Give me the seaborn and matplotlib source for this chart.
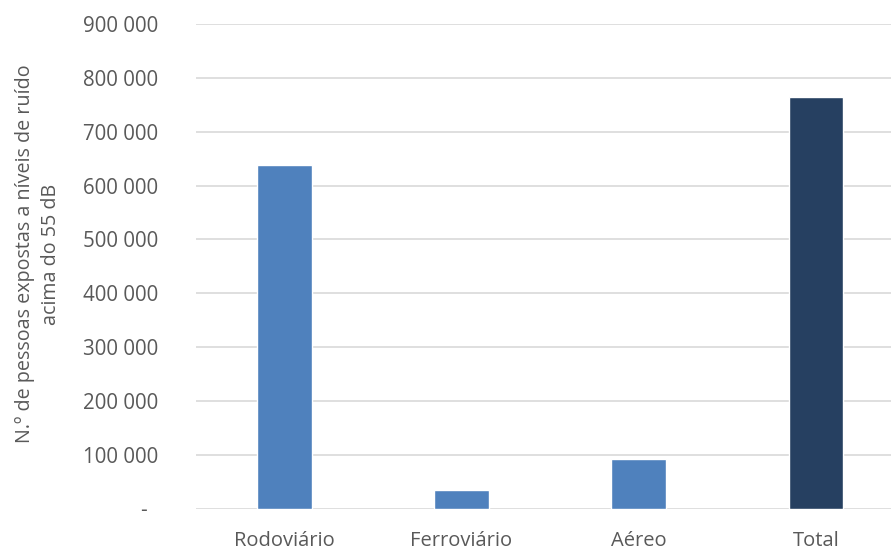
import matplotlib
matplotlib.use("Agg")
import matplotlib.pyplot as plt
import seaborn as sns
import pandas as pd

# Persons exposed to noise above 55 dB, by source
categories = ["Rodoviário", "Ferroviário", "Aéreo", "Total"]
values = [639000, 34000, 92000, 765000]
bar_colors = ["#4F81BD", "#4F81BD", "#4F81BD", "#264061"]
y_ticks = [0, 100000, 200000, 300000, 400000, 500000, 600000, 700000, 800000, 900000]
y_label = "N.º de pessoas expostas a níveis de ruído\nacima do 55 dB"

sns.set_theme(style="white")
plt.rcParams["font.family"] = ["Open Sans", "DejaVu Sans"]

text_color = "#595959"
grid_color = "#D9D9D9"

df = pd.DataFrame({"fonte": categories, "pessoas": values})

W, H = 891, 549
fig = plt.figure(figsize=(W / 100, H / 100), dpi=100)
ax = fig.add_axes([195.6 / W, 1 - 508.5 / H, (904.6 - 195.6) / W, (508.5 - 24) / H])

sns.barplot(data=df, x="fonte", y="pessoas", hue="fonte", palette=bar_colors,
            width=0.31, legend=False, ax=ax, saturation=1, zorder=3)

ax.set_ylim(0, 900000)
ax.set_xlim(-0.5, 3.5)
ax.set_yticks(y_ticks)


def fmt(v):
    if v == 0:
        return "-  "
    return f"{v:,.0f}".replace(",", " ")


ax.set_yticklabels([fmt(v) for v in y_ticks])
ax.yaxis.grid(True, color=grid_color, linewidth=1.2, zorder=0)
ax.set_axisbelow(True)
for s in ax.spines.values():
    s.set_visible(False)

ax.tick_params(axis="y", length=0, pad=27, labelsize=14.8, labelcolor=text_color)
ax.tick_params(axis="x", length=0, pad=16, labelsize=14.5, labelcolor=text_color)
ax.set_xlabel("")
ax.set_ylabel("")

fig.text(38 / W, 1 - 254 / H, y_label, rotation=90, ha="center", va="center",
         multialignment="center", fontsize=14.2, color=text_color, linespacing=1.35)

fig.savefig("out.png", dpi=100)
